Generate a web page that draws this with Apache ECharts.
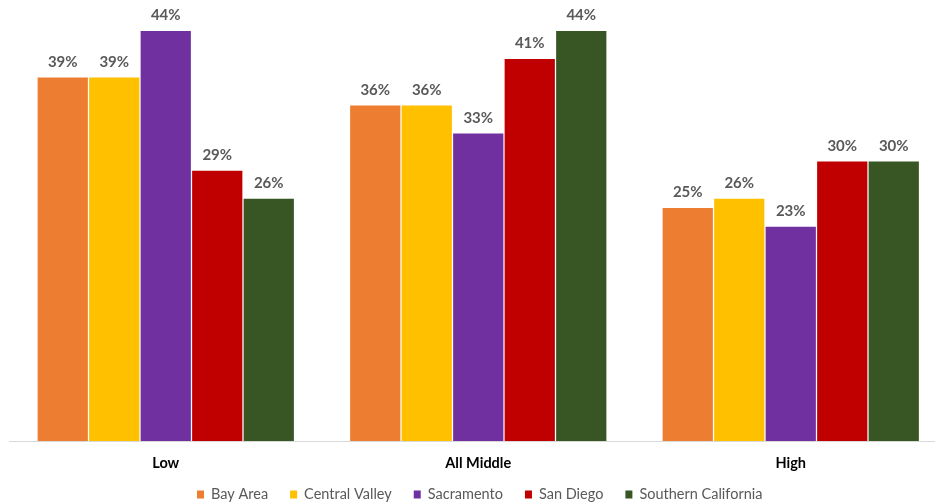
<!DOCTYPE html>
<html>
<head>
<meta charset="utf-8">
<script src="https://cdn.jsdelivr.net/npm/echarts@6/dist/echarts.min.js"></script>
<style>html,body{margin:0;padding:0;background:#fff}#c{width:935px;height:504px}</style>
</head>
<body>
<div id="c"></div>
<script>
const categories = ["Low", "All Middle", "High"];
const seriesNames = ["Bay Area", "Central Valley", "Sacramento", "San Diego", "Southern California"];
const bayArea = [39, 36, 25];
const centralValley = [39, 36, 26];
const sacramento = [44, 33, 23];
const sanDiego = [29, 41, 30];
const southernCalifornia = [26, 44, 30];
const colors = ["#ED7D31", "#FFC000", "#7030A0", "#C00000", "#375623"];

const allValues = [bayArea, centralValley, sacramento, sanDiego, southernCalifornia];
const font = "Lato, 'Open Sans', sans-serif";

const chart = echarts.init(document.getElementById('c'), null, {renderer: 'canvas'});
chart.setOption({
  animation: false,
  color: colors,
  grid: {left: 9.5, top: 0, width: 937.5, height: 441, containLabel: false, outerBoundsMode: 'none'},
  legend: {
    data: seriesNames,
    left: 192,
    top: 482,
    itemWidth: 7,
    itemHeight: 8,
    itemGap: 22,
    icon: 'rect',
    textStyle: {color: '#595959', fontSize: 14.5, fontFamily: font, padding: [0, 0, 0, 2]}
  },
  xAxis: {
    type: 'category',
    data: categories,
    axisLine: {lineStyle: {color: '#D9D9D9', width: 1}},
    axisTick: {show: false},
    axisLabel: {color: '#000', fontWeight: 'bold', fontSize: 14.5, fontFamily: font, margin: 15}
  },
  yAxis: {
    type: 'value',
    min: 0,
    max: 47.33,
    show: false,
    splitLine: {show: false}
  },
  series: seriesNames.map((name, i) => ({
    name: name,
    type: 'bar',
    data: allValues[i],
    barGap: '2.5%',
    barCategoryGap: '18%',
    label: {
      show: true,
      position: 'top',
      distance: 8,
      formatter: '{c}%',
      color: '#595959',
      fontWeight: 'bold',
      fontSize: 15,
      fontFamily: font
    }
  }))
});
</script>
</body>
</html>
